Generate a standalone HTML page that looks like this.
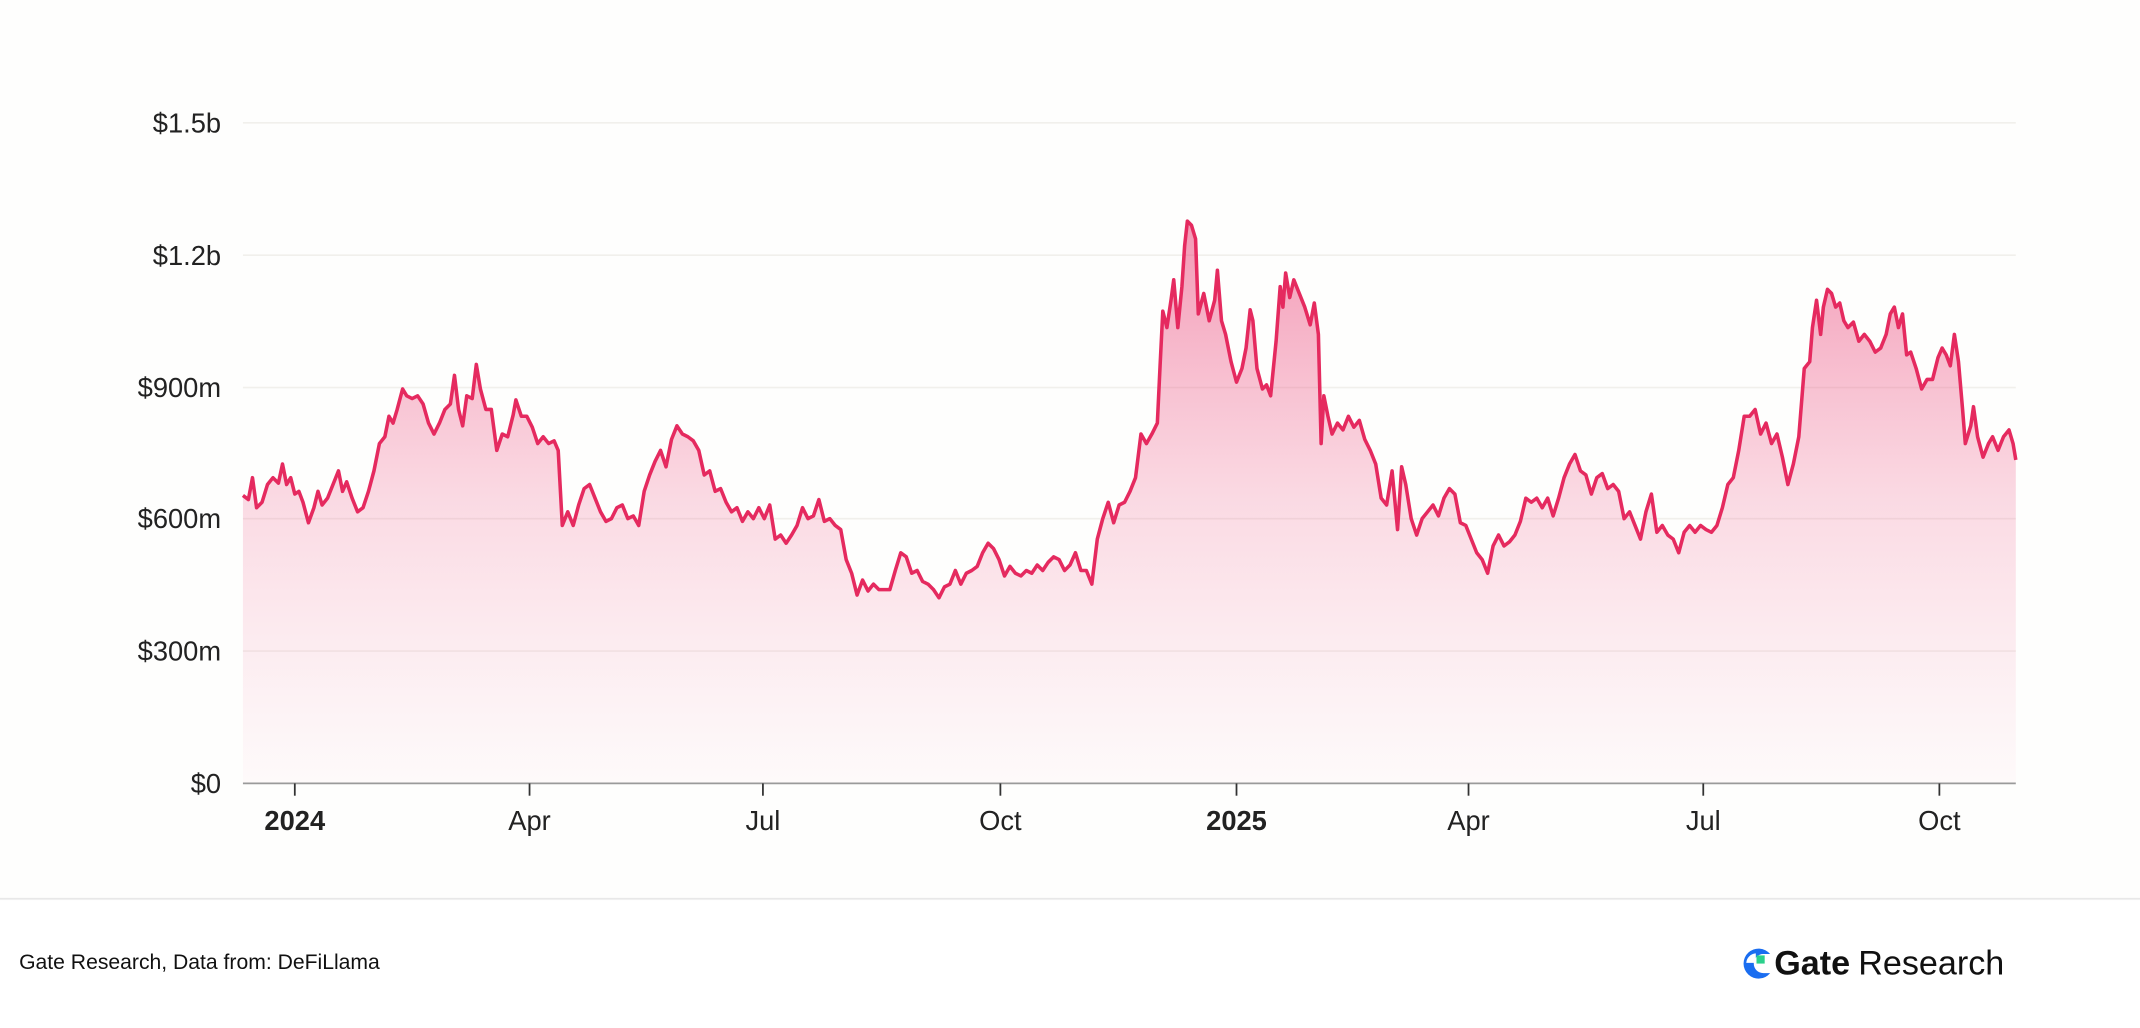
<!DOCTYPE html>
<html><head><meta charset="utf-8"><style>
html,body{margin:0;padding:0;background:#fff;}
svg{display:block;}
text{font-family:"Liberation Sans",sans-serif;}
</style></head><body>
<svg width="2140" height="1028" viewBox="0 0 1568 753.2" preserveAspectRatio="none">
<defs>
<linearGradient id="g" gradientUnits="userSpaceOnUse" x1="0" y1="160" x2="0" y2="574">
<stop offset="0" stop-color="#e8306a" stop-opacity="0.5"/>
<stop offset="0.5" stop-color="#ee5a88" stop-opacity="0.22"/>
<stop offset="1" stop-color="#f27ba0" stop-opacity="0.03"/>
</linearGradient>
</defs>
<rect width="1568" height="753.2" fill="#fefefd"/>
<rect x="0" y="660" width="1568" height="94" fill="#ffffff"/>
<g stroke="#f1f0ec" stroke-width="1.2">
<line x1="178" y1="90" x2="1477" y2="90"/>
<line x1="178" y1="187" x2="1477" y2="187"/>
<line x1="178" y1="284" x2="1477" y2="284"/>
<line x1="178" y1="380" x2="1477" y2="380"/>
<line x1="178" y1="477" x2="1477" y2="477"/>
</g>
<g font-size="20" fill="#222" text-anchor="end">
<text x="162" y="97">$1.5b</text>
<text x="162" y="194">$1.2b</text>
<text x="162" y="291">$900m</text>
<text x="162" y="387">$600m</text>
<text x="162" y="484">$300m</text>
<text x="162" y="581">$0</text>
</g>
<polygon id="area" fill="url(#g)" points=""/>
<polyline id="line" fill="none" stroke="#e52a5f" stroke-width="2.6" stroke-linejoin="round" points=""/>
<line x1="178" y1="574" x2="1477" y2="574" stroke="#9a9a9a" stroke-width="1.3"/>
<g stroke="#333" stroke-width="1.3">
<line x1="216" y1="574" x2="216" y2="583"/><line x1="388" y1="574" x2="388" y2="583"/>
<line x1="559" y1="574" x2="559" y2="583"/><line x1="733" y1="574" x2="733" y2="583"/>
<line x1="906" y1="574" x2="906" y2="583"/><line x1="1076" y1="574" x2="1076" y2="583"/>
<line x1="1248" y1="574" x2="1248" y2="583"/><line x1="1421" y1="574" x2="1421" y2="583"/>
</g>
<g font-size="20" fill="#222" text-anchor="middle">
<text x="216" y="608" font-weight="bold">2024</text>
<text x="388" y="608">Apr</text>
<text x="559" y="608">Jul</text>
<text x="733" y="608">Oct</text>
<text x="906" y="608" font-weight="bold">2025</text>
<text x="1076" y="608">Apr</text>
<text x="1248" y="608">Jul</text>
<text x="1421" y="608">Oct</text>
</g>
<line x1="0" y1="658.5" x2="1568" y2="658.5" stroke="#e8e8e8" stroke-width="1.2"/>
<text x="14" y="710" font-size="15.5" fill="#111">Gate Research, Data from: DeFiLlama</text>
<g transform="translate(1275,694)">
<path d="M22 5 A11 11 0 1 0 22 19 L17 19 A6 6 0 1 1 17 5 Z" fill="#1a6df0"/>
<path d="M11.5 4.5 A7.5 7.5 0 0 0 4.5 11.5 L11.5 11.5 Z" fill="#fff"/>
<rect x="12" y="6" width="6" height="6" fill="#2bd08c"/>
</g>
<text x="1300" y="714" font-size="25" fill="#111"><tspan font-weight="bold">Gate</tspan><tspan dx="6">Research</tspan></text>
</svg>
<script>
var d=[178,363,182,366,185,350,188,372,192,368,196,355,200,350,204,354,207,340,210,355,213,350,216,362,219,360,222,368,226,383,230,372,233,360,236,370,240,365,244,355,248,345,251,360,254,353,258,365,262,375,266,372,270,360,274,345,278,325,282,320,285,305,288,310,291,300,295,285,298,290,302,292,306,290,310,296,314,310,318,318,322,310,326,300,330,296,333,275,336,300,339,312,342,290,346,292,349,267,352,285,356,300,360,300,364,330,368,318,372,320,376,304,378,293,382,305,386,305,390,313,394,325,398,320,402,325,406,323,409,330,412,385,416,375,420,385,424,370,428,358,432,355,436,365,440,375,444,382,448,380,452,372,456,370,460,380,464,378,468,385,472,360,476,348,480,338,484,330,488,342,492,322,496,312,500,318,504,320,508,323,512,330,516,348,520,345,524,360,528,358,532,368,536,375,540,372,544,382,548,375,552,380,556,372,560,380,564,370,568,395,572,392,576,398,580,392,584,385,588,372,592,380,596,378,600,366,604,382,608,380,612,385,616,388,620,410,624,420,628,436,632,425,636,433,640,428,644,432,648,432,652,432,656,418,660,405,664,408,668,420,672,418,676,426,680,428,684,432,688,438,692,430,696,428,700,418,704,428,708,420,712,418,716,415,720,405,724,398,728,402,732,410,736,422,740,415,744,420,748,422,752,418,756,420,760,414,764,418,768,412,772,408,776,410,780,418,784,414,788,405,792,418,796,418,800,428,804,395,808,380,812,368,816,383,820,370,824,368,828,360,832,350,836,318,840,325,844,318,848,310,850,268,852,228,855,240,858,220,860,205,863,240,866,210,868,180,870,162,873,165,876,175,878,230,882,215,886,235,890,220,892,198,895,235,898,245,902,265,906,280,910,270,913,255,916,227,918,235,921,270,925,285,928,282,931,290,935,250,938,210,940,225,942,200,945,218,948,205,952,215,956,225,960,238,963,222,966,245,968,325,970,290,973,305,976,318,980,310,984,315,988,305,992,313,996,308,1000,322,1004,330,1008,340,1012,365,1016,370,1020,345,1024,388,1027,342,1030,355,1034,380,1038,392,1042,380,1046,375,1050,370,1054,378,1058,365,1062,358,1066,362,1070,383,1074,385,1078,395,1082,405,1086,410,1090,420,1094,400,1098,392,1102,400,1106,397,1110,392,1114,382,1118,365,1122,368,1126,365,1130,372,1134,365,1138,378,1142,365,1146,350,1150,340,1154,333,1158,345,1162,348,1166,362,1170,350,1174,347,1178,358,1182,355,1186,360,1190,380,1194,375,1198,385,1202,395,1206,375,1210,362,1214,390,1218,385,1222,392,1226,395,1230,405,1234,390,1238,385,1242,390,1246,385,1250,388,1254,390,1258,385,1262,372,1266,355,1270,350,1274,330,1278,305,1282,305,1286,300,1290,318,1294,310,1298,325,1302,318,1306,335,1310,355,1314,340,1318,320,1322,270,1326,265,1328,240,1331,220,1334,245,1336,225,1339,212,1342,215,1345,225,1348,222,1351,235,1354,240,1358,236,1362,250,1366,245,1370,250,1374,258,1378,255,1382,245,1385,230,1388,225,1391,240,1394,230,1397,260,1400,258,1404,270,1408,285,1412,278,1416,278,1420,262,1423,255,1426,260,1429,268,1432,245,1435,265,1438,300,1440,325,1444,312,1446,298,1449,320,1453,335,1457,325,1460,320,1464,330,1468,320,1472,315,1475,325,1477,337];
var p=[];for(var i=0;i<d.length;i+=2)p.push(d[i]+","+d[i+1]);
var s=p.join(" ");
document.getElementById("line").setAttribute("points",s);
document.getElementById("area").setAttribute("points","178,574 "+s+" 1477,574");
</script>
</body></html>
